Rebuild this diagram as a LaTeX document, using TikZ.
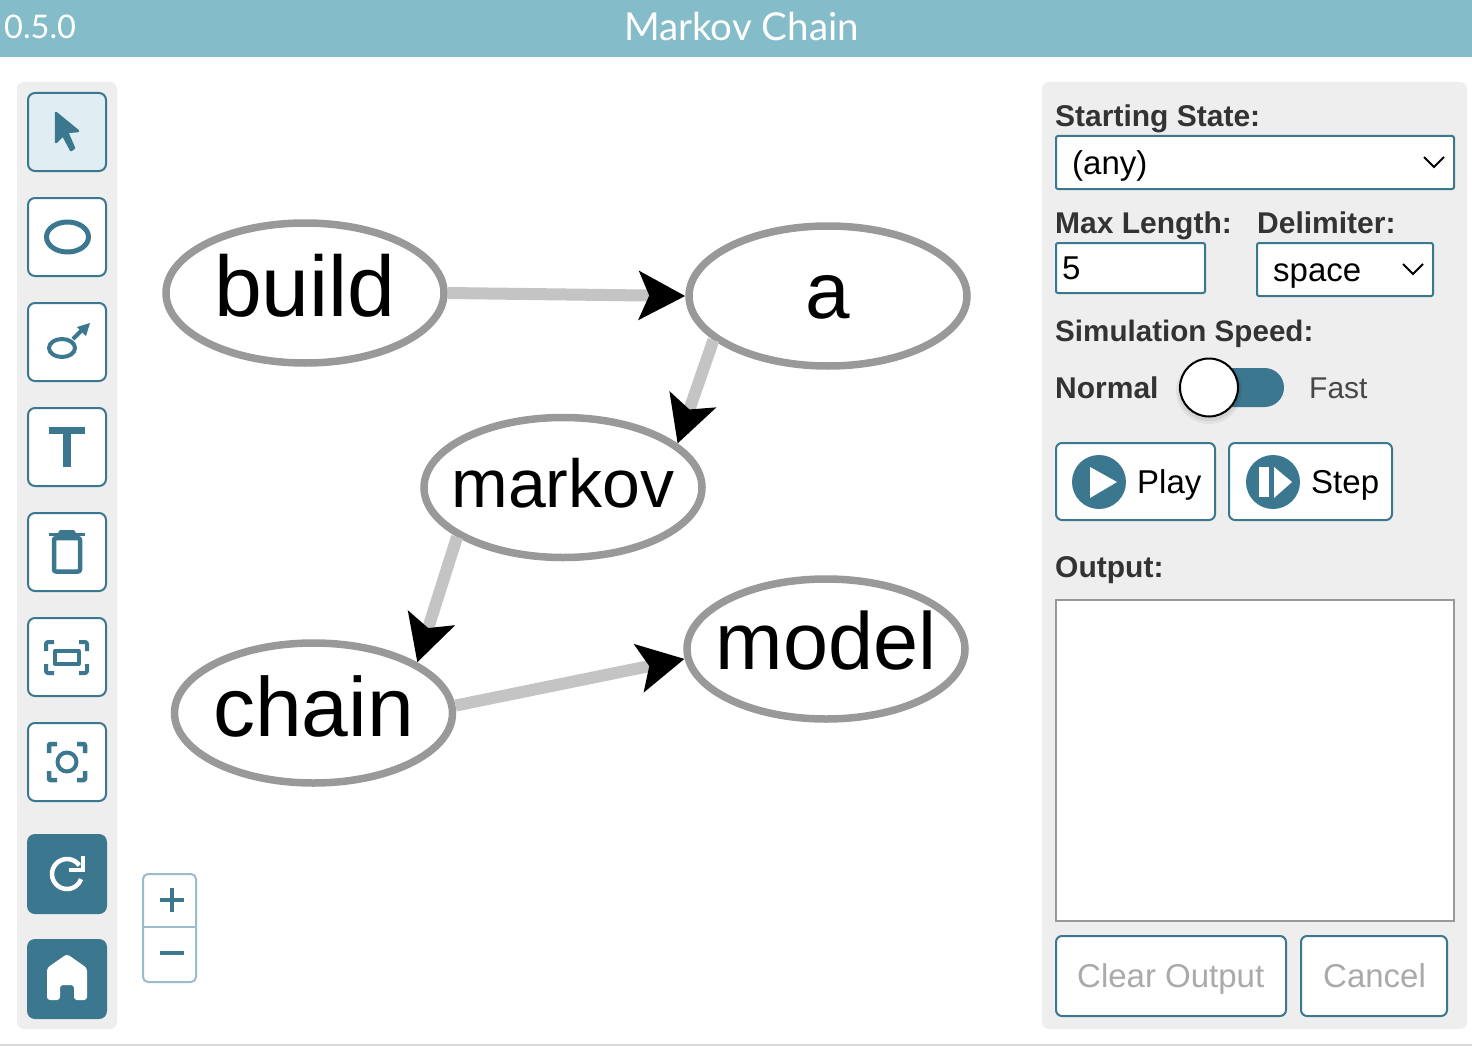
\documentclass[tikz,border=0pt]{standalone}
\usepackage{fontspec}
\usetikzlibrary{arrows.meta,shapes.geometric}
\setmainfont{Liberation Sans}
\newfontfamily\titlefont{Lato}
\newcommand{\fsz}[1]{\fontsize{#1}{#1}\selectfont}
\newcommand{\gtext}[3]{\makebox[0pt][c]{\fsz{#1}\raisebox{#2pt}{#3}}}
\definecolor{teal}{HTML}{3B778F}
\definecolor{barblue}{HTML}{85BCC9}
\definecolor{panel}{HTML}{EEEEEE}
\definecolor{selfill}{HTML}{E0EDF2}
\definecolor{rim}{HTML}{999999}
\definecolor{edgegray}{HTML}{C4C4C4}
\definecolor{zoomline}{HTML}{9BBCCB}
\definecolor{labgray}{HTML}{333333}
\definecolor{dimtext}{HTML}{AAAAAA}
\tikzset{
  x=1pt,y=-1pt,
  graphnode/.style={ellipse,draw=rim,fill=white,line width=7.5pt,minimum width=278pt,minimum height=140pt,inner sep=0pt,text height=0pt,text depth=0pt},
  edgeline/.style={line width=12pt,draw=edgegray,-{Stealth[length=46pt,width=48pt,inset=10pt,color=black]}},
  toolbtn/.style={draw=teal,fill=white,line width=2pt,rounded corners=7pt,minimum width=78pt,minimum height=78pt,inner sep=0pt},
  solidbtn/.style={fill=teal,rounded corners=8pt,minimum width=80pt,minimum height=80pt,inner sep=0pt},
  uibox/.style={draw=teal,fill=white,line width=2pt,rounded corners=2pt,inner sep=0pt},
  actbtn/.style={draw=teal,fill=white,line width=2pt,rounded corners=6pt,inner sep=0pt},
  icon/.style={draw=teal,line join=round},
  iconfill/.style={fill=teal,line join=round},
  boldlab/.style={anchor=base west,inner sep=0pt,text=labgray,font=\fsz{30}\bfseries},
  plainlab/.style={anchor=base west,inner sep=0pt,font=\fsz{33}},
  dimlab/.style={anchor=base west,inner sep=0pt,text=dimtext,font=\fsz{33}},
  titlelab/.style={inner sep=0pt,text=white,font=\titlefont\fsz{38.5}},
}
\begin{document}
\begin{tikzpicture}
\useasboundingbox (0,0) rectangle (1472,1046);
\fill[white] (0,0) rectangle (1472,1046);
\fill[barblue] (0,0) rectangle (1472,57);
\fill[gray!30] (0,1044) rectangle (1472,1046);
\node[titlelab,font=\titlefont\fsz{32.5},anchor=base west] (version) at (4,39) {0.5.0};
\node[titlelab,anchor=base] (title) at (741.5,41) {Markov Chain};
% panels
\fill[panel,rounded corners=7pt] (17,82) rectangle (117,1029);
\fill[panel,rounded corners=7pt] (1042,82) rectangle (1467,1029);
% toolbar
\node[toolbtn,fill=selfill] (b1) at (67,132) {};
\node[toolbtn] (b2) at (67,237) {};
\node[toolbtn] (b3) at (67,342) {};
\node[toolbtn] (b4) at (67,447) {};
\node[toolbtn] (b5) at (67,552) {};
\node[toolbtn] (b6) at (67,657) {};
\node[toolbtn] (b7) at (67,762) {};
\node[solidbtn] (b8) at (67,874) {};
\node[solidbtn] (b9) at (67,979) {};
% cursor
\filldraw[icon,iconfill,line width=2.5pt] (56,113)--(78,131)--(67,132)--(74,148)--(71,150)--(63,135)--(56,142)--cycle;
% ellipse
\draw[icon,line width=5pt] (67.5,237) ellipse [x radius=21,y radius=15];
% edge icon
\draw[icon,line width=4pt] (62,348) ellipse [x radius=13,y radius=9];
\draw[icon,line width=4pt] (73,339)--(83,329);
\fill[iconfill] (90,323)--(77,327)--(86,336)--cycle;
% T
\fill[iconfill] (49,427) rectangle (85,434);
\fill[iconfill] (63,427) rectangle (71,467);
% trash
\fill[iconfill] (49,533) rectangle (85,536);
\fill[iconfill] (58,533)--(60,530)--(74,530)--(76,533)--cycle;
\draw[icon,line width=4.5pt,rounded corners=2pt] (54,538)--(54,571.5)--(80,571.5)--(80,538)--cycle;
% fit icon
\draw[icon,line width=4pt] (55,651) rectangle (78.5,664);
\draw[icon,line width=4pt,rounded corners=2pt] (54,642)--(46,642)--(46,651);
\draw[icon,line width=4pt,rounded corners=2pt] (79,642)--(87,642)--(87,651);
\draw[icon,line width=4pt,rounded corners=2pt] (54,673)--(46,673)--(46,664);
\draw[icon,line width=4pt,rounded corners=2pt] (79,673)--(87,673)--(87,664);
% focus icon
\draw[icon,line width=4pt] (67,762) circle [radius=9.5];
\draw[icon,line width=4.5pt,rounded corners=1pt] (57,744)--(49,744)--(49,753);
\draw[icon,line width=4.5pt,rounded corners=1pt] (77,744)--(85,744)--(85,753);
\draw[icon,line width=4.5pt,rounded corners=1pt] (57,780)--(49,780)--(49,771);
\draw[icon,line width=4.5pt,rounded corners=1pt] (77,780)--(85,780)--(85,771);
% reload
\draw[white,line width=4.5pt] (79.3,865.4) arc [start angle=-35,end angle=-340,radius=15];
\draw[white,line width=4.5pt] (83,856)--(83,870)--(69,870);
% home
\fill[white,rounded corners=3pt] (67,954)--(47,968)--(47,1000)--(60,1000)--(60,985)--(74,985)--(74,1000)--(87,1000)--(87,968)--cycle;
% zoom control
\node[draw=zoomline,fill=white,line width=2pt,rounded corners=5pt,minimum width=53pt,minimum height=108pt,inner sep=0pt] (zoombox) at (169.5,928) {};
\draw[zoomline,line width=2pt] (zoombox.west |- 0,927) -- (zoombox.east |- 0,927);
\draw[teal,line width=3.5pt] (160,900)--(184,900);
\draw[teal,line width=3.5pt] (172,888)--(172,912);
\draw[teal,line width=3.5pt] (160,953)--(184,953);
% graph
\node[graphnode] (build) at (305,293) {\gtext{86}{-23}{build}};
\node[graphnode] (a) at (828,296) {\gtext{80}{-22}{a}};
\node[graphnode] (markov) at (563,487.5) {\gtext{68}{-20}{markov}};
\node[graphnode] (chain) at (313.5,713) {\gtext{84}{-23}{chain}};
\node[graphnode] (model) at (826,649) {\gtext{81}{-20}{model}};
\draw[edgeline] (build.0) -- (a.180);
\draw[edgeline] (a.201) -- (markov.21.5);
\draw[edgeline] (markov.205) -- (chain.26);
\draw[edgeline] (chain.3) -- (model.184.5);
% right panel
\node[boldlab] (lstart) at (1055,127) {Starting State:};
\node[uibox,minimum width=398pt,minimum height=53pt] (startsel) at (1255,162.5) {};
\node[plainlab] (any) at (1072,174) {(any)};
\draw[black,line width=1.8pt] (1424,157)--(1434,167)--(1444,157);
\node[boldlab] (lmax) at (1055,233) {Max Length:};
\node[boldlab] (ldelim) at (1257,233) {Delimiter:};
\node[uibox,minimum width=149pt,minimum height=50pt] (maxin) at (1130.5,268) {};
\node[plainlab] (five) at (1062,279) {5};
\node[uibox,minimum width=176pt,minimum height=53pt] (delimsel) at (1345,269.5) {};
\node[plainlab] (space) at (1273,281) {space};
\draw[black,line width=1.8pt] (1403,264)--(1413,274)--(1423,264);
\node[boldlab,font=\fsz{29.6}\bfseries] (lspeed) at (1055,341) {Simulation Speed:};
\node[boldlab] (lnormal) at (1055,398) {Normal};
\node[anchor=base west,inner sep=0pt,text=labgray!90,font=\fsz{30}] (lfast) at (1309,398) {Fast};
\fill[teal,rounded corners=19.5pt] (1190,368) rectangle (1284,407);
\fill[black,opacity=.05] (1209,391) circle [radius=33];
\fill[black,opacity=.06] (1209,390) circle [radius=31];
\node[circle,draw=black,fill=white,line width=2pt,minimum size=58pt,inner sep=0pt] (knob) at (1209,387.5) {};
\node[actbtn,minimum width=159pt,minimum height=77pt] (play) at (1135.5,481.5) {};
\node[actbtn,minimum width=163pt,minimum height=77pt] (stepb) at (1310.5,481.5) {};
\fill[iconfill] (1099,482) circle [radius=27];
\fill[white] (1090,467)--(1117,482)--(1090,498)--cycle;
\fill[iconfill] (1273,482) circle [radius=27];
\fill[white] (1259,467) rectangle (1269,497);
\fill[white] (1274,467)--(1292,482)--(1274,498)--cycle;
\node[plainlab] (lplay) at (1137,493) {Play};
\node[plainlab] (lstep) at (1311,493) {Step};
\node[boldlab] (loutput) at (1055,577) {Output:};
\node[draw=rim,fill=white,line width=2pt,minimum width=398pt,minimum height=321pt,inner sep=0pt] (outbox) at (1255,760.5) {};
\node[actbtn,minimum width=230pt,minimum height=80pt] (clear) at (1171,976) {};
\node[actbtn,minimum width=146pt,minimum height=80pt] (cancel) at (1374,976) {};
\node[dimlab] (lclear) at (1077,987) {Clear Output};
\node[dimlab] (lcancel) at (1323,987) {Cancel};
\end{tikzpicture}
\end{document}
